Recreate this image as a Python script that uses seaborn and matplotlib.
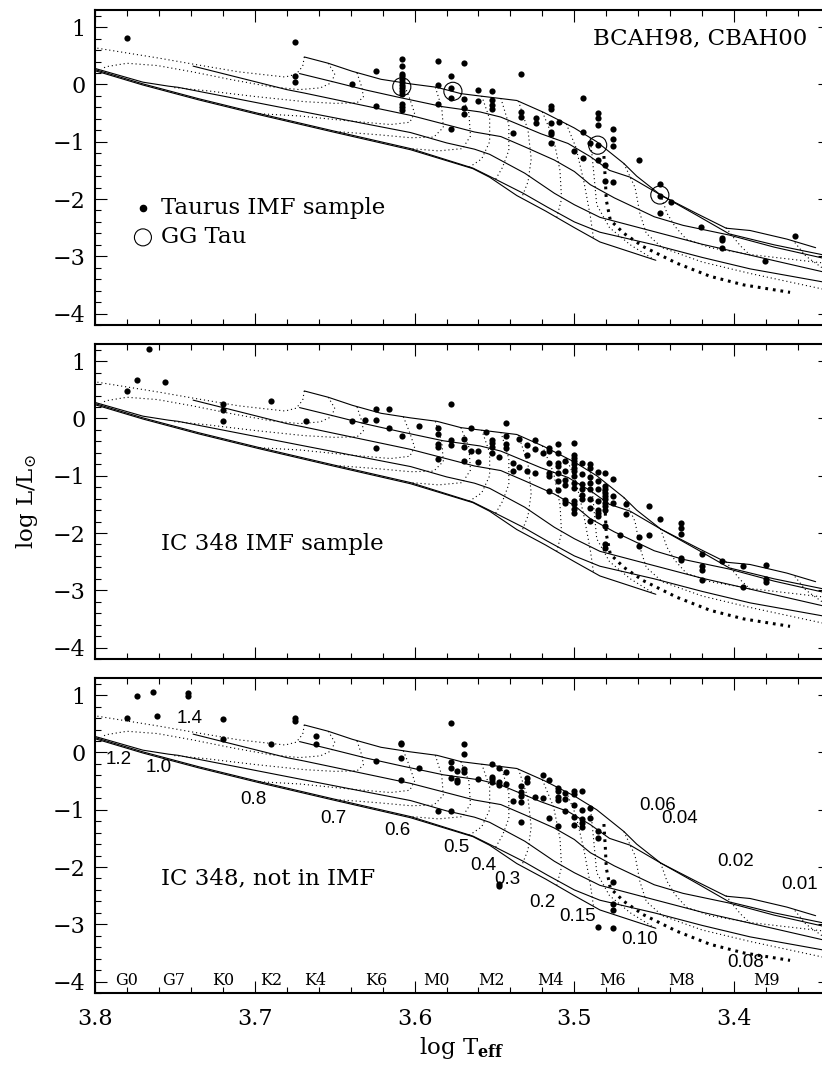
import matplotlib
matplotlib.use("Agg")
import matplotlib.pyplot as plt
from matplotlib.ticker import MultipleLocator, FormatStrFormatter, FuncFormatter
import seaborn as sns

# ---------------- model isochrones (solid): log Teff, log L ----------------
iso_a_t = [3.669, 3.654, 3.639, 3.621, 3.6025, 3.586, 3.571, 3.5625, 3.536, 3.519,
           3.500, 3.486, 3.469, 3.461, 3.446, 3.423, 3.405, 3.390, 3.367, 3.349]
iso_a_l = [0.48, 0.37, 0.23, 0.09, 0.01, -0.05, -0.16, -0.19, -0.28, -0.49,
           -0.76, -1.00, -1.38, -1.60, -1.93, -2.26, -2.51, -2.55, -2.70, -2.85]

iso_b_t = [3.672, 3.650, 3.630, 3.609, 3.582, 3.559, 3.546, 3.521, 3.504, 3.490,
           3.478, 3.465, 3.446, 3.423, 3.403, 3.375, 3.340]
iso_b_l = [0.19, 0.04, -0.10, -0.23, -0.39, -0.48, -0.57, -0.86, -1.03, -1.26,
           -1.50, -1.62, -1.93, -2.29, -2.61, -2.80, -3.00]

iso_c_t = [3.7386, 3.710, 3.680, 3.669, 3.6025, 3.5625, 3.546, 3.531, 3.5125, 3.500,
           3.490, 3.475, 3.450, 3.432, 3.403, 3.375, 3.340]
iso_c_l = [0.32, 0.12, -0.09, -0.15, -0.54, -0.83, -0.91, -1.09, -1.32, -1.52,
           -1.75, -1.98, -2.31, -2.46, -2.63, -2.84, -3.06]

iso_d_t = [3.800, 3.770, 3.754, 3.748, 3.669, 3.6025, 3.580, 3.5625, 3.553, 3.531,
           3.5125, 3.500, 3.484, 3.450, 3.420, 3.390, 3.340]
iso_d_l = [0.28, 0.04, -0.03, -0.05, -0.48, -0.84, -1.02, -1.13, -1.22, -1.55,
           -1.90, -2.10, -2.32, -2.57, -2.79, -2.98, -3.30]

iso_e_t = [3.800, 3.770, 3.735, 3.697, 3.651, 3.6025, 3.5635, 3.549, 3.532, 3.517,
           3.500, 3.484, 3.450, 3.420, 3.390, 3.340]
iso_e_l = [0.26, 0.01, -0.25, -0.51, -0.81, -1.12, -1.46, -1.66, -1.90, -2.14,
           -2.40, -2.58, -2.80, -3.02, -3.22, -3.47]

iso_f_t = [3.800, 3.770, 3.735, 3.697, 3.651, 3.6025, 3.5635, 3.553, 3.536, 3.518,
           3.500, 3.484, 3.449]
iso_f_l = [0.24, -0.01, -0.27, -0.53, -0.83, -1.14, -1.47, -1.62, -1.94, -2.21,
           -2.50, -2.75, -3.07]

# ---------------- evolutionary tracks (dotted): log Teff, log L ----------------
trk_140_t = [3.669, 3.670, 3.674, 3.681, 3.710, 3.7375, 3.760, 3.800, 3.810]
trk_140_l = [0.48, 0.32, 0.18, 0.13, 0.22, 0.35, 0.46, 0.64, 0.69]
trk_120_t = [3.654, 3.650, 3.652, 3.659, 3.672, 3.690, 3.714, 3.739, 3.761, 3.780, 3.793, 3.796]
trk_120_l = [0.37, 0.18, 0.03, -0.06, -0.09, -0.04, 0.08, 0.22, 0.33, 0.37, 0.31, 0.27]
trk_100_t = [3.636, 3.633, 3.632, 3.636, 3.650, 3.669, 3.700, 3.730, 3.752]
trk_100_l = [0.20, -0.05, -0.22, -0.32, -0.33, -0.30, -0.21, -0.11, -0.05]
trk_080_t = [3.607, 3.603, 3.600, 3.603, 3.615, 3.640, 3.672, 3.698]
trk_080_l = [0.03, -0.25, -0.50, -0.66, -0.70, -0.64, -0.55, -0.51]
trk_070_t = [3.587, 3.583, 3.582, 3.588, 3.6025, 3.622, 3.650]
trk_070_l = [-0.05, -0.40, -0.75, -0.92, -0.93, -0.88, -0.82]
trk_060_t = [3.571, 3.566, 3.565, 3.570, 3.585, 3.6025]
trk_060_l = [-0.16, -0.50, -0.90, -1.12, -1.16, -1.12]
trk_050_t = [3.558, 3.553, 3.553, 3.558, 3.566]
trk_050_l = [-0.20, -0.60, -1.00, -1.30, -1.45]
trk_040_t = [3.546, 3.541, 3.541, 3.545, 3.550]
trk_040_l = [-0.24, -0.70, -1.15, -1.45, -1.69]
trk_030_t = [3.535, 3.529, 3.527, 3.529, 3.533]
trk_030_l = [-0.29, -0.80, -1.30, -1.70, -1.98]
trk_020_t = [3.520, 3.513, 3.509, 3.508, 3.511]
trk_020_l = [-0.48, -0.95, -1.50, -2.00, -2.32]
trk_015_t = [3.505, 3.499, 3.494, 3.490, 3.488]
trk_015_l = [-0.69, -1.10, -1.70, -2.30, -2.69]
trk_010_t = [3.490, 3.488, 3.486, 3.478, 3.465, 3.450]
trk_010_l = [-0.94, -1.50, -2.10, -2.50, -2.80, -3.06]
trk_006_t = [3.469, 3.462, 3.459, 3.455, 3.445, 3.420, 3.390, 3.340]
trk_006_l = [-1.38, -1.80, -2.25, -2.60, -2.85, -3.10, -3.30, -3.60]
trk_004_t = [3.446, 3.442, 3.437, 3.430, 3.415, 3.390, 3.340]
trk_004_l = [-1.93, -2.25, -2.48, -2.70, -2.85, -2.97, -3.13]
trk_002_t = [3.405, 3.401, 3.396, 3.390]
trk_002_l = [-2.50, -2.65, -2.82, -2.98]
trk_001_t = [3.362, 3.355, 3.345]
trk_001_l = [-2.76, -3.00, -3.20]
# hydrogen-burning limit track (heavy dots)
trk_008_t = [3.4815, 3.4806, 3.480, 3.4775, 3.469, 3.457, 3.436, 3.415, 3.394, 3.365]
trk_008_l = [-1.25, -1.67, -2.02, -2.37, -2.60, -2.83, -3.12, -3.35, -3.50, -3.63]

# ---------------- track mass labels (bottom panel) ----------------
mass_text = ["1.4", "1.2", "1.0", "0.8", "0.7", "0.6", "0.5", "0.4", "0.3", "0.2",
             "0.15", "0.10", "0.08", "0.06", "0.04", "0.02", "0.01"]
mass_t = [3.741, 3.785, 3.760, 3.701, 3.651, 3.611, 3.574, 3.557, 3.542, 3.520,
          3.498, 3.459, 3.393, 3.448, 3.434, 3.399, 3.359]
mass_l = [0.59, -0.12, -0.27, -0.82, -1.16, -1.37, -1.66, -1.97, -2.22, -2.62,
          -2.87, -3.26, -3.67, -0.92, -1.16, -1.91, -2.31]

# ---------------- spectral types along the bottom ----------------
sptype_text = ["G0", "G7", "K0", "K2", "K4", "K6", "M0", "M2", "M4", "M6", "M8", "M9"]
sptype_t = [3.780, 3.751, 3.720, 3.690, 3.662, 3.624, 3.586, 3.552, 3.515, 3.476, 3.433, 3.380]

# ---------------- Taurus IMF sample ----------------
taurus_t = [3.780, 3.675, 3.675, 3.675, 3.639, 3.624, 3.624,
            3.608, 3.608, 3.608, 3.608, 3.608, 3.608, 3.608, 3.608, 3.608, 3.608, 3.608, 3.608, 3.608,
            3.5854, 3.5854, 3.5854, 3.5775, 3.5775, 3.5775, 3.5775,
            3.569, 3.569, 3.569, 3.569, 3.5604, 3.5604,
            3.5517, 3.5517, 3.5517, 3.5517, 3.5333, 3.5333, 3.5333, 3.5385,
            3.524, 3.524, 3.5146, 3.5146, 3.5146, 3.5146, 3.5146, 3.5146, 3.5098,
            3.4948, 3.4948, 3.4948, 3.500, 3.4902,
            3.4854, 3.4854, 3.4854, 3.4854, 3.4854, 3.4806, 3.4806, 3.476,
            3.4758, 3.4758, 3.4758, 3.4598,
            3.4465, 3.4465, 3.4396, 3.4465, 3.4208, 3.4077, 3.4077, 3.4077, 3.3806, 3.362]
taurus_l = [0.81, 0.75, 0.145, 0.04, 0.00, 0.23, -0.38,
            0.44, 0.33, 0.19, 0.14, 0.09, 0.04, -0.01, -0.06, -0.11, -0.16, -0.34, -0.40, -0.45,
            0.41, -0.01, -0.34, 0.145, -0.07, -0.24, -0.77,
            0.37, -0.26, -0.41, -0.52, -0.10, -0.29,
            -0.12, -0.27, -0.35, -0.43, 0.18, -0.48, -0.56, -0.85,
            -0.58, -0.67, -0.38, -0.42, -0.68, -0.83, -0.86, -1.02, -0.66,
            -0.23, -0.83, -1.28, -1.17, -1.02,
            -0.49, -0.58, -0.71, -1.06, -1.32, -1.41, -1.68, -1.70,
            -0.77, -0.96, -1.08, -1.32,
            -1.73, -1.95, -2.06, -2.25, -2.49, -2.68, -2.72, -2.86, -3.09, -2.65]

# GG Tau components
ggtau_t = [3.608, 3.576, 3.4854, 3.4465]
ggtau_l = [-0.04, -0.12, -1.06, -1.93]

# ---------------- IC 348 IMF sample ----------------
imf_t = [3.780, 3.774, 3.766, 3.756, 3.720, 3.720, 3.720, 3.690, 3.668, 3.639, 3.631,
         3.624, 3.624, 3.624, 3.616, 3.616, 3.608, 3.5973,
         3.5854, 3.5854, 3.5854, 3.5854, 3.5854, 3.5775, 3.5775, 3.5775,
         3.5692, 3.5692, 3.5692, 3.5646, 3.5646, 3.5602, 3.5602, 3.5556,
         3.5515, 3.5515, 3.5515, 3.5515, 3.5473, 3.5425, 3.5425, 3.5425, 3.5425,
         3.5385, 3.5385, 3.5344, 3.5344, 3.5298, 3.5298, 3.5298, 3.5248, 3.5248, 3.5248, 3.5198,
         3.5156, 3.5156, 3.5156, 3.5156, 3.5156, 3.5156,
         3.5104, 3.5104, 3.5104, 3.5104, 3.5104, 3.5104, 3.5104,
         3.5056, 3.5056, 3.5056, 3.5056, 3.5056, 3.5056,
         3.500, 3.500, 3.500, 3.500, 3.500, 3.500, 3.500, 3.500, 3.500, 3.500, 3.500, 3.500, 3.500, 3.500,
         3.495, 3.495, 3.495, 3.495, 3.495, 3.495,
         3.490, 3.490, 3.490, 3.490, 3.490, 3.490, 3.490, 3.490,
         3.4854, 3.4854, 3.4854, 3.4854, 3.4854, 3.4854, 3.4854,
         3.4806, 3.4806, 3.4806, 3.4806, 3.4806, 3.4806, 3.4806, 3.4806, 3.4806, 3.4806, 3.4806, 3.4806,
         3.4758, 3.4758, 3.4758, 3.4717, 3.4675, 3.4675, 3.4596, 3.4596, 3.4533, 3.4533, 3.4467,
         3.4331, 3.4331, 3.4331, 3.4331, 3.4331, 3.4204, 3.4204, 3.4204, 3.4204,
         3.4077, 3.3942, 3.3942, 3.3802, 3.3802, 3.3802]
imf_l = [0.48, 0.68, 1.22, 0.63, 0.26, 0.14, -0.05, 0.31, -0.05, -0.05, -0.02,
         0.16, -0.02, -0.51, 0.16, -0.16, -0.30, -0.13,
         -0.16, -0.27, -0.44, -0.50, -0.70, 0.26, -0.37, -0.47,
         -0.35, -0.50, -0.74, -0.16, -0.57, -0.56, -0.76, -0.23,
         -0.37, -0.42, -0.49, -0.60, -0.67, -0.08, -0.31, -0.44, -0.51,
         -0.78, -0.91, -0.35, -0.84, -0.47, -0.64, -0.91, -0.37, -0.53, -0.95, -0.61,
         -0.51, -0.57, -0.77, -0.95, -1.01, -1.26,
         -0.45, -0.60, -0.77, -0.83, -0.95, -1.09, -1.25,
         -0.74, -0.92, -1.08, -1.17, -1.43, -1.47,
         -0.42, -0.63, -0.69, -0.74, -0.80, -0.86, -0.92, -1.01, -1.12, -1.21, -1.44, -1.50, -1.58, -1.65,
         -0.78, -0.97, -1.15, -1.23, -1.33, -1.41,
         -0.80, -0.86, -1.03, -1.12, -1.24, -1.41, -1.56, -1.79,
         -0.94, -1.09, -1.24, -1.44, -1.59, -1.65, -1.70,
         -0.95, -1.18, -1.24, -1.30, -1.35, -1.41, -1.47, -1.53, -1.59, -1.88, -2.20, -2.26,
         -1.05, -1.35, -1.47, -2.04, -1.50, -1.67, -2.07, -2.23, -1.52, -2.03, -1.76,
         -1.82, -1.91, -2.02, -2.43, -2.47, -2.37, -2.58, -2.65, -2.82,
         -2.49, -2.58, -2.95, -2.55, -2.80, -2.85]

# ---------------- IC 348 members not in the IMF sample ----------------
other_t = [3.780, 3.774, 3.7635, 3.761, 3.7417, 3.7417, 3.7198, 3.7198, 3.690, 3.675, 3.675,
           3.6615, 3.6615, 3.624, 3.6083, 3.6083, 3.6083, 3.6083, 3.5973, 3.5854,
           3.5775, 3.5775, 3.5775, 3.5775, 3.5775, 3.5733, 3.5733, 3.5733,
           3.569, 3.569, 3.569, 3.569, 3.5602, 3.5515, 3.5515, 3.5515, 3.5515,
           3.5473, 3.5473, 3.5473, 3.5473, 3.5473, 3.5425, 3.5425, 3.5385,
           3.5333, 3.5333, 3.5333, 3.5333, 3.5333, 3.5298, 3.5298, 3.5248, 3.5198, 3.5198,
           3.5156, 3.5156, 3.5104, 3.5104, 3.5104, 3.5104, 3.5104, 3.5056, 3.5056, 3.5056,
           3.500, 3.500, 3.500, 3.500, 3.500, 3.495, 3.495, 3.495, 3.495, 3.495,
           3.490, 3.490, 3.4854, 3.4854, 3.4854, 3.4758, 3.4758, 3.4758, 3.4758]
other_l = [0.60, 0.98, 1.05, 0.63, 1.03, 0.99, 0.59, 0.23, 0.15, 0.60, 0.55,
           0.28, 0.15, -0.15, 0.17, 0.14, -0.10, -0.48, -0.27, -1.03,
           0.51, -0.16, -0.27, -0.44, -1.02, -0.33, -0.48, -0.52,
           0.15, -0.03, -0.29, -0.35, -0.47, -0.21, -0.42, -0.47, -0.51,
           -0.27, -0.51, -0.57, -2.30, -2.33, -0.34, -0.55, -0.85,
           -0.59, -0.69, -0.76, -0.86, -1.21, -0.45, -0.51, -0.77, -0.40, -0.80,
           -0.48, -1.15, -0.62, -0.67, -0.78, -0.83, -1.28, -0.70, -0.81, -1.02,
           -0.67, -0.72, -0.92, -1.12, -1.26, -0.67, -1.01, -1.16, -1.24, -1.31,
           -0.97, -1.15, -1.37, -1.50, -3.04, -2.27, -2.65, -2.75, -3.07]

isochrones = [(iso_a_t, iso_a_l), (iso_b_t, iso_b_l), (iso_c_t, iso_c_l),
              (iso_d_t, iso_d_l), (iso_e_t, iso_e_l), (iso_f_t, iso_f_l)]
tracks = [(trk_140_t, trk_140_l), (trk_120_t, trk_120_l), (trk_100_t, trk_100_l),
          (trk_080_t, trk_080_l), (trk_070_t, trk_070_l), (trk_060_t, trk_060_l),
          (trk_050_t, trk_050_l), (trk_040_t, trk_040_l), (trk_030_t, trk_030_l),
          (trk_020_t, trk_020_l), (trk_015_t, trk_015_l), (trk_010_t, trk_010_l),
          (trk_006_t, trk_006_l), (trk_004_t, trk_004_l), (trk_002_t, trk_002_l),
          (trk_001_t, trk_001_l)]

sns.set_theme(style="ticks")
plt.rcParams["font.family"] = ["DejaVu Serif"]
plt.rcParams["mathtext.fontset"] = "dejavuserif"
plt.rcParams["axes.edgecolor"] = "black"
plt.rcParams["xtick.color"] = "black"
plt.rcParams["ytick.color"] = "black"
plt.rcParams["text.color"] = "black"
plt.rcParams["axes.labelcolor"] = "black"

fig = plt.figure(figsize=(8.22, 10.66), dpi=100)
left, width, height = 95 / 822, 735 / 822, 315 / 1066
bottoms = [1 - 325 / 1066, 1 - 659 / 1066, 1 - 993 / 1066]
axes = [fig.add_axes([left, b, width, height]) for b in bottoms]


def draw_models(ax):
    for t, l in isochrones:
        sns.lineplot(x=t, y=l, sort=False, estimator=None, color="black",
                     lw=0.8, ax=ax, zorder=2)
    for t, l in tracks:
        sns.lineplot(x=t, y=l, sort=False, estimator=None, color="black",
                     lw=0.8, linestyle=(0, (1, 2.6)), ax=ax, zorder=2)
    sns.lineplot(x=trk_008_t, y=trk_008_l, sort=False, estimator=None, color="black",
                 lw=2.2, linestyle=(0, (0.9, 1.6)), ax=ax, zorder=2)


def minus_int(v, pos):
    return f"{v:.0f}".replace("-", "\u2212")


def style_axis(ax, show_x):
    ax.set_xlim(3.8, 3.34)
    ax.set_ylim(-4.2, 1.3)
    ax.xaxis.set_major_locator(MultipleLocator(0.1))
    ax.xaxis.set_minor_locator(MultipleLocator(0.02))
    ax.yaxis.set_major_locator(MultipleLocator(1))
    ax.yaxis.set_minor_locator(MultipleLocator(0.2))
    ax.xaxis.set_major_formatter(FormatStrFormatter("%.1f"))
    ax.yaxis.set_major_formatter(FuncFormatter(minus_int))
    ax.tick_params(which="both", direction="in", top=True, right=True, width=0.8)
    ax.tick_params(which="major", length=8.5)
    ax.tick_params(which="minor", length=4.3)
    ax.tick_params(axis="y", labelsize=16, pad=7)
    ax.tick_params(axis="x", labelsize=16, pad=11, labelbottom=show_x)
    for sp in ax.spines.values():
        sp.set_linewidth(1.5)
        sp.set_color("black")
    ax.set_xlabel("")
    ax.set_ylabel("")


dot_kw = dict(color="black", s=20, linewidth=0, zorder=3)

# Taurus
ax = axes[0]
draw_models(ax)
sns.scatterplot(x=taurus_t, y=taurus_l, ax=ax, **dot_kw)
ax.scatter(ggtau_t, ggtau_l, s=170, facecolors="none", edgecolors="black",
           linewidths=0.8, zorder=4)
ax.text(3.354, 0.81, "BCAH98, CBAH00", ha="right", va="center", fontsize=16.5)
ax.scatter([3.770], [-2.16], s=20, color="black")
ax.text(3.759, -2.16, "Taurus IMF sample", ha="left", va="center", fontsize=16.5)
ax.scatter([3.770], [-2.67], s=150, facecolors="none", edgecolors="black", linewidths=0.8)
ax.text(3.759, -2.67, "GG Tau", ha="left", va="center", fontsize=16.5)
style_axis(ax, False)

# IC 348 IMF sample
ax = axes[1]
draw_models(ax)
sns.scatterplot(x=imf_t, y=imf_l, ax=ax, **dot_kw)
ax.text(3.759, -2.20, "IC 348 IMF sample", ha="left", va="center", fontsize=16.5)
style_axis(ax, False)

# IC 348 outside the IMF sample
ax = axes[2]
draw_models(ax)
sns.scatterplot(x=other_t, y=other_l, ax=ax, **dot_kw)
ax.text(3.759, -2.20, "IC 348, not in IMF", ha="left", va="center", fontsize=16.5)
for txt, t, l in zip(mass_text, mass_t, mass_l):
    ax.text(t, l, txt, ha="center", va="center", fontsize=13.5,
            family=["Liberation Sans", "DejaVu Sans"])
for txt, t in zip(sptype_text, sptype_t):
    ax.text(t, -3.99, txt, ha="center", va="center", fontsize=11.5)
style_axis(ax, True)

fig.text(27 / 822, 1 - 502 / 1066, r"log L/L$_{\odot}$", rotation=90,
         ha="center", va="center", fontsize=16.5)
fig.text(462 / 822, 1 - 1048 / 1066, r"log T$_{\mathbf{eff}}$",
         ha="center", va="center", fontsize=16.5)

fig.savefig("out.png", dpi=100)
